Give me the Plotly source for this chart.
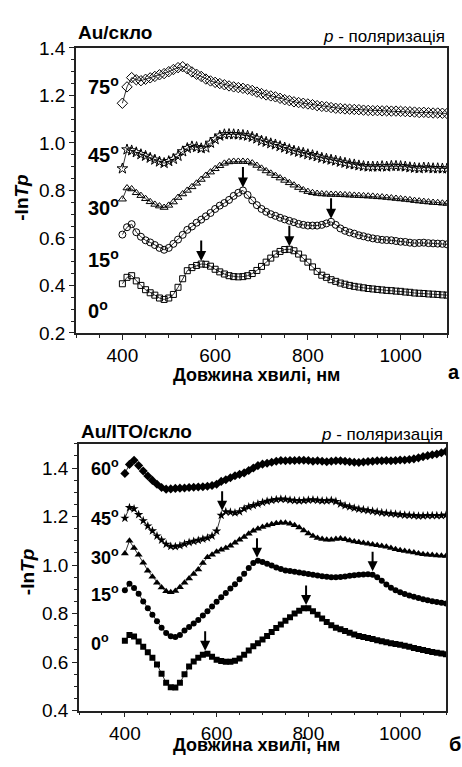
import plotly.graph_objects as go

wl = list(range(400, 1101, 10))

# ---- Au/скло (top) ----
top_0 = [0.407, 0.434, 0.441, 0.419, 0.400, 0.382, 0.369, 0.359, 0.347, 0.341,
         0.347, 0.362, 0.392, 0.428, 0.462, 0.475, 0.484, 0.490, 0.489, 0.481,
         0.468, 0.457, 0.448, 0.441, 0.437, 0.436, 0.437, 0.441, 0.450, 0.463,
         0.480, 0.498, 0.515, 0.532, 0.543, 0.551, 0.552, 0.546, 0.532, 0.515,
         0.498, 0.478, 0.459, 0.443, 0.434, 0.424, 0.417, 0.410, 0.405, 0.400,
         0.396, 0.393, 0.390, 0.387, 0.385, 0.383, 0.381, 0.379, 0.378, 0.376,
         0.375, 0.372, 0.371, 0.368, 0.367, 0.366, 0.364, 0.363, 0.362, 0.360,
         0.359]
top_15 = [0.614, 0.645, 0.658, 0.624, 0.605, 0.590, 0.581, 0.570, 0.558, 0.550,
          0.558, 0.575, 0.593, 0.613, 0.634, 0.648, 0.664, 0.677, 0.691, 0.705,
          0.722, 0.736, 0.747, 0.760, 0.777, 0.790, 0.800, 0.781, 0.758, 0.738,
          0.722, 0.710, 0.700, 0.693, 0.685, 0.678, 0.672, 0.666, 0.659, 0.655,
          0.652, 0.652, 0.652, 0.655, 0.661, 0.668, 0.655, 0.640, 0.630, 0.623,
          0.618, 0.611, 0.607, 0.602, 0.598, 0.595, 0.592, 0.591, 0.590, 0.587,
          0.584, 0.583, 0.580, 0.578, 0.579, 0.580, 0.578, 0.577, 0.576, 0.575,
          0.573]
top_30 = [0.763, 0.810, 0.806, 0.790, 0.778, 0.765, 0.752, 0.741, 0.734, 0.728,
          0.737, 0.751, 0.770, 0.785, 0.800, 0.815, 0.830, 0.846, 0.863, 0.877,
          0.891, 0.904, 0.914, 0.920, 0.922, 0.922, 0.922, 0.921, 0.915, 0.905,
          0.893, 0.882, 0.872, 0.862, 0.852, 0.842, 0.832, 0.822, 0.812, 0.802,
          0.795, 0.790, 0.787, 0.785, 0.784, 0.783, 0.783, 0.782, 0.781, 0.780,
          0.779, 0.778, 0.777, 0.776, 0.775, 0.773, 0.772, 0.770, 0.768, 0.766,
          0.764, 0.762, 0.760, 0.757, 0.755, 0.753, 0.751, 0.749, 0.748, 0.746,
          0.745]
top_45 = [0.892, 0.972, 0.968, 0.960, 0.952, 0.945, 0.937, 0.929, 0.921, 0.915,
          0.923, 0.932, 0.945, 0.964, 0.978, 0.985, 0.982, 0.977, 0.980, 1.000,
          1.015, 1.030, 1.036, 1.037, 1.036, 1.035, 1.033, 1.030, 1.025, 1.018,
          1.009, 1.004, 0.998, 0.993, 0.986, 0.980, 0.973, 0.967, 0.962, 0.958,
          0.952, 0.948, 0.943, 0.937, 0.933, 0.929, 0.925, 0.920, 0.916, 0.911,
          0.909, 0.905, 0.902, 0.900, 0.900, 0.900, 0.902, 0.900, 0.903, 0.903,
          0.902, 0.900, 0.897, 0.895, 0.893, 0.896, 0.895, 0.893, 0.893, 0.892,
          0.892]
top_75 = [1.167, 1.236, 1.275, 1.266, 1.262, 1.268, 1.274, 1.280, 1.287, 1.292,
          1.300, 1.309, 1.317, 1.321, 1.312, 1.299, 1.289, 1.280, 1.269, 1.261,
          1.255, 1.250, 1.245, 1.240, 1.236, 1.233, 1.230, 1.226, 1.221, 1.214,
          1.208, 1.202, 1.198, 1.194, 1.188, 1.182, 1.178, 1.173, 1.170, 1.167,
          1.164, 1.161, 1.157, 1.154, 1.152, 1.149, 1.146, 1.145, 1.143, 1.142,
          1.141, 1.140, 1.138, 1.137, 1.136, 1.136, 1.135, 1.135, 1.134, 1.134,
          1.133, 1.132, 1.131, 1.130, 1.128, 1.129, 1.127, 1.126, 1.126, 1.125,
          1.124]

# ---- Au/ITO/скло (bottom) ----
bot_0 = [0.688, 0.712, 0.705, 0.685, 0.663, 0.640, 0.618, 0.590, 0.552, 0.515,
         0.496, 0.495, 0.515, 0.550, 0.582, 0.602, 0.618, 0.630, 0.634, 0.622,
         0.610, 0.604, 0.601, 0.601, 0.605, 0.615, 0.630, 0.648, 0.665, 0.678,
         0.693, 0.708, 0.724, 0.740, 0.755, 0.770, 0.785, 0.800, 0.812, 0.822,
         0.822, 0.810, 0.795, 0.780, 0.765, 0.752, 0.742, 0.735, 0.728, 0.721,
         0.714, 0.708, 0.703, 0.699, 0.695, 0.690, 0.686, 0.682, 0.678, 0.674,
         0.671, 0.667, 0.663, 0.658, 0.654, 0.650, 0.646, 0.642, 0.638, 0.635,
         0.632]
bot_15 = [0.896, 0.923, 0.905, 0.882, 0.850, 0.822, 0.795, 0.768, 0.742, 0.720,
          0.706, 0.703, 0.712, 0.730, 0.745, 0.759, 0.773, 0.792, 0.810, 0.829,
          0.849, 0.867, 0.885, 0.903, 0.921, 0.941, 0.964, 0.988, 1.008, 1.018,
          1.013, 1.005, 0.998, 0.990, 0.984, 0.978, 0.975, 0.972, 0.969, 0.966,
          0.963, 0.960, 0.957, 0.954, 0.952, 0.950, 0.950, 0.951, 0.953, 0.956,
          0.958, 0.960, 0.961, 0.962, 0.960, 0.950, 0.935, 0.920, 0.906, 0.896,
          0.888, 0.881, 0.875, 0.869, 0.864, 0.859, 0.855, 0.851, 0.848, 0.845,
          0.842]
bot_30 = [1.048, 1.100, 1.070, 1.042, 1.010, 0.977, 0.952, 0.927, 0.907, 0.892,
          0.888, 0.893, 0.908, 0.927, 0.945, 0.963, 0.982, 1.008, 1.032, 1.043,
          1.055, 1.063, 1.070, 1.080, 1.092, 1.104, 1.116, 1.129, 1.141, 1.150,
          1.157, 1.163, 1.168, 1.172, 1.174, 1.174, 1.170, 1.164, 1.155, 1.143,
          1.130, 1.120, 1.112, 1.107, 1.104, 1.104, 1.107, 1.109, 1.106, 1.101,
          1.097, 1.094, 1.091, 1.088, 1.085, 1.082, 1.079, 1.075, 1.070, 1.065,
          1.061, 1.058, 1.055, 1.052, 1.048, 1.045, 1.043, 1.041, 1.039, 1.038,
          1.037]
bot_45 = [1.193, 1.237, 1.232, 1.208, 1.183, 1.161, 1.141, 1.120, 1.103, 1.086,
          1.077, 1.076, 1.080, 1.087, 1.093, 1.098, 1.102, 1.107, 1.112, 1.120,
          1.140, 1.205, 1.220, 1.218, 1.215, 1.220, 1.232, 1.240, 1.246, 1.252,
          1.258, 1.263, 1.267, 1.270, 1.272, 1.271, 1.268, 1.266, 1.265, 1.266,
          1.268, 1.269, 1.267, 1.265, 1.265, 1.267, 1.262, 1.252, 1.245, 1.240,
          1.235, 1.231, 1.228, 1.225, 1.222, 1.219, 1.216, 1.214, 1.212, 1.210,
          1.208, 1.206, 1.205, 1.204, 1.202, 1.203, 1.204, 1.204, 1.204, 1.204,
          1.206]
bot_60 = [1.378, 1.415, 1.432, 1.410, 1.388, 1.367, 1.349, 1.333, 1.320, 1.313,
          1.314, 1.316, 1.317, 1.318, 1.320, 1.321, 1.322, 1.323, 1.325, 1.328,
          1.333, 1.345, 1.352, 1.360, 1.368, 1.374, 1.380, 1.390, 1.400, 1.410,
          1.416, 1.420, 1.424, 1.428, 1.431, 1.430, 1.431, 1.431, 1.432, 1.432,
          1.431, 1.428, 1.430, 1.428, 1.426, 1.428, 1.430, 1.430, 1.428, 1.426,
          1.424, 1.423, 1.425, 1.427, 1.428, 1.430, 1.430, 1.431, 1.430, 1.431,
          1.433, 1.433, 1.435, 1.438, 1.442, 1.447, 1.451, 1.455, 1.458, 1.463,
          1.468]

top_labels = ["0", "15", "30", "45", "75"]
top_label_y = [0.30, 0.515, 0.732, 0.954, 1.240]
bot_labels = ["0", "15", "30", "45", "60"]
bot_label_y = [0.682, 0.883, 1.037, 1.197, 1.404]

top_arrows_x = [570, 760, 660, 850]
top_arrows_y = [0.490, 0.552, 0.800, 0.668]
bot_arrows_x = [575, 795, 688, 940, 612]
bot_arrows_y = [0.634, 0.823, 1.018, 0.962, 1.212]

x_ticks = [400, 600, 800, 1000]

FONT = "Liberation Sans, Arial, sans-serif"
W, H = 462, 767

fig = go.Figure()

top_series = [(top_0, "square-open", 6), (top_15, "circle-open", 7),
              (top_30, "triangle-up-open", 7), (top_45, "star-open", 8),
              (top_75, "diamond-open", 8)]
for ys, sym, sz in top_series:
    fig.add_trace(go.Scatter(
        x=wl, y=ys, mode="lines+markers", xaxis="x", yaxis="y",
        line=dict(color="black", width=0.8),
        marker=dict(symbol=sym, size=sz, color="black", line=dict(color="black", width=1)),
        showlegend=False, hoverinfo="skip"))

bot_series = [(bot_0, "square", 6), (bot_15, "circle", 6),
              (bot_30, "triangle-up", 7), (bot_45, "star", 7),
              (bot_60, "diamond", 7)]
for ys, sym, sz in bot_series:
    fig.add_trace(go.Scatter(
        x=wl, y=ys, mode="lines+markers", xaxis="x2", yaxis="y2",
        line=dict(color="black", width=0.8),
        marker=dict(symbol=sym, size=sz, color="black", line=dict(color="black", width=0)),
        showlegend=False, hoverinfo="skip"))

axis_common = dict(
    showline=True, linecolor="#222", linewidth=1.5, mirror=True,
    ticks="outside", ticklen=5, tickwidth=1.2, tickcolor="#222",
    showgrid=False, zeroline=False,
    tickfont=dict(family=FONT, size=19, color="black"),
)


def px(x):
    return x / W


def py(y):
    return 1 - y / H


fig.update_layout(
    width=W, height=H, autosize=False,
    margin=dict(l=0, r=0, t=0, b=0),
    paper_bgcolor="white", plot_bgcolor="white",
    xaxis=dict(domain=[px(76), px(447)], range=[300, 1100], anchor="y",
               tickvals=x_ticks, minor=dict(dtick=50, tick0=300, ticks="outside", ticklen=3, tickcolor="#222"),
               **axis_common),
    yaxis=dict(domain=[py(332), py(39)], range=[0.2, 1.4], anchor="x",
               dtick=0.2, tick0=0.2, tickformat=".1f",
               minor=dict(dtick=0.05, tick0=0.2, ticks="outside", ticklen=3, tickcolor="#222"),
               **axis_common),
    xaxis2=dict(domain=[px(79), px(446)], range=[300, 1100], anchor="y2",
                tickvals=x_ticks, minor=dict(dtick=50, tick0=300, ticks="outside", ticklen=3, tickcolor="#222"),
                **axis_common),
    yaxis2=dict(domain=[py(720.3), py(446)], range=[0.4, 1.5], anchor="x2",
                dtick=0.2, tick0=0.4, tickformat=".1f",
                minor=dict(dtick=0.05, tick0=0.4, ticks="outside", ticklen=3, tickcolor="#222"),
                **axis_common),
)

ann = []
for lab, yv in zip(top_labels, top_label_y):
    ann.append(dict(x=px(86), xref="paper", y=yv, yref="y", xanchor="left", yanchor="middle",
                    text=f"<b>{lab}<sup>o</sup></b>", showarrow=False,
                    font=dict(family=FONT, size=20, color="black")))
for lab, yv in zip(bot_labels, bot_label_y):
    ann.append(dict(x=px(89), xref="paper", y=yv, yref="y2", xanchor="left", yanchor="middle",
                    text=f"<b>{lab}<sup>o</sup></b>", showarrow=False,
                    font=dict(family=FONT, size=18, color="black")))
for xa, ya in zip(top_arrows_x, top_arrows_y):
    ann.append(dict(x=xa, y=ya, xref="x", yref="y", ax=0, ay=-25, text="",
                    showarrow=True, arrowhead=2, arrowsize=1, arrowwidth=2,
                    arrowcolor="black", standoff=3))
for xa, ya in zip(bot_arrows_x, bot_arrows_y):
    ann.append(dict(x=xa, y=ya, xref="x2", yref="y2", ax=0, ay=-24, text="",
                    showarrow=True, arrowhead=2, arrowsize=1, arrowwidth=2,
                    arrowcolor="black", standoff=3))
ann += [
    dict(x=px(76), y=py(23), xref="paper", yref="paper", xanchor="left", yanchor="middle",
         text="<b>Au/скло</b>", showarrow=False, font=dict(family=FONT, size=19, color="black")),
    dict(x=px(447), y=py(27), xref="paper", yref="paper", xanchor="right", yanchor="middle",
         text="<i>p</i> - поляризація", showarrow=False, font=dict(family=FONT, size=17, color="black")),
    dict(x=px(79), y=py(433), xref="paper", yref="paper", xanchor="left", yanchor="middle",
         text="<b>Au/ITO/скло</b>", showarrow=False, font=dict(family=FONT, size=19, color="black")),
    dict(x=px(445), y=py(436), xref="paper", yref="paper", xanchor="right", yanchor="middle",
         text="<i>p</i> - поляризація", showarrow=False, font=dict(family=FONT, size=17, color="black")),
    dict(x=px(256), y=py(375), xref="paper", yref="paper", xanchor="center", yanchor="middle",
         text="<b>Довжина хвилі, нм</b>", showarrow=False, font=dict(family=FONT, size=18, color="black")),
    dict(x=px(256), y=0, xref="paper", yref="paper", xanchor="center", yanchor="bottom",
         borderpad=0, text="<b>Довжина хвилі, нм</b>", showarrow=False,
         font=dict(family=FONT, size=18, color="black")),
    dict(x=px(462), y=py(372), xref="paper", yref="paper", xanchor="right", yanchor="middle",
         text="<b>а</b>", showarrow=False, font=dict(family=FONT, size=20, color="black")),
    dict(x=px(462), y=0, xref="paper", yref="paper", xanchor="right", yanchor="bottom",
         borderpad=0, text="<b>б</b>", showarrow=False, font=dict(family=FONT, size=20, color="black")),
    dict(x=px(22), y=py(193), xref="paper", yref="paper", xanchor="center", yanchor="middle",
         text="<b>-ln<i>Tp</i></b>", textangle=-90, showarrow=False,
         font=dict(family=FONT, size=19, color="black")),
    dict(x=px(27), y=py(578), xref="paper", yref="paper", xanchor="center", yanchor="middle",
         text="<b>-ln<i>Tp</i></b>", textangle=-90, showarrow=False,
         font=dict(family=FONT, size=19, color="black")),
]
fig.update_layout(annotations=ann)

fig.write_html("out.html")
